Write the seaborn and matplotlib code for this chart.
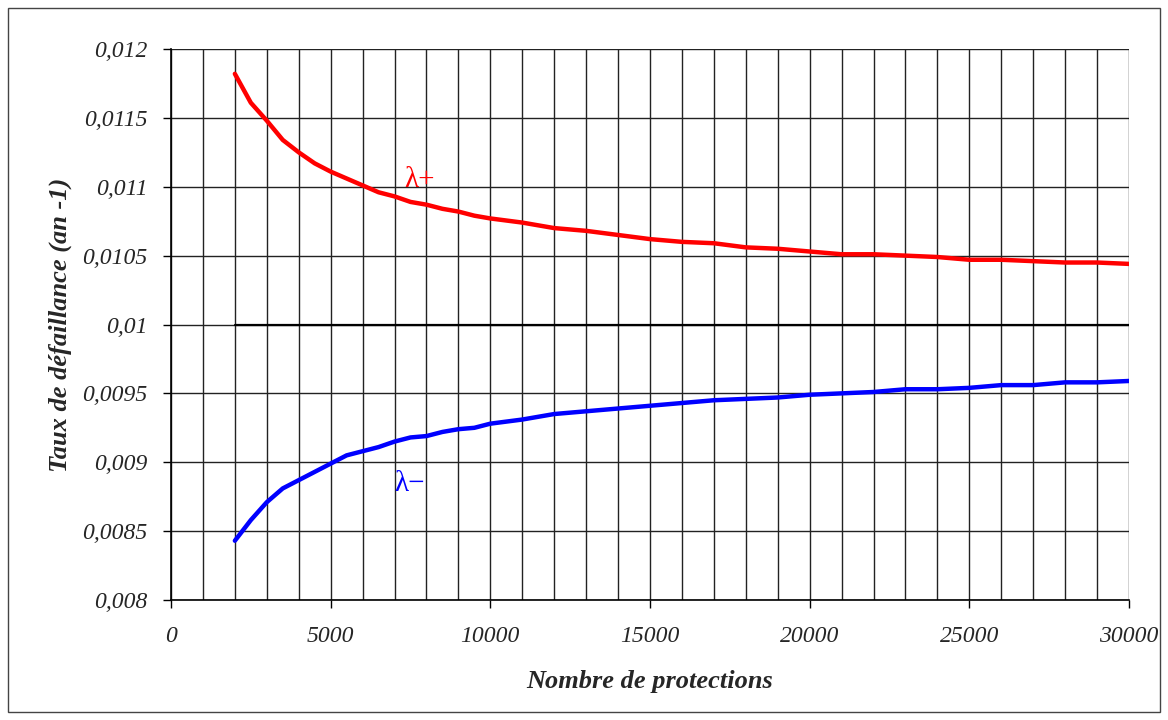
import matplotlib
matplotlib.use("Agg")
import matplotlib.pyplot as plt
import seaborn as sns
import pandas as pd
from matplotlib.patches import Rectangle
from matplotlib.ticker import MultipleLocator, FuncFormatter

# Data
x_plus = [2000, 2500, 3000, 3500, 4000, 4500, 5000, 5500, 6000, 6500, 7000, 7500,
          8000, 8500, 9000, 9500, 10000, 11000, 12000, 13000, 14000, 15000, 16000,
          17000, 18000, 19000, 20000, 21000, 22000, 23000, 24000, 25000, 26000,
          27000, 28000, 29000, 30000]
lambda_plus = [0.01182, 0.01161, 0.01148, 0.01134, 0.01125, 0.01117, 0.01111, 0.01106,
               0.01101, 0.01096, 0.01093, 0.01089, 0.01087, 0.01084, 0.01082, 0.01079,
               0.01077, 0.01074, 0.01070, 0.01068, 0.01065, 0.01062, 0.01060, 0.01059,
               0.01056, 0.01055, 0.01053, 0.01051, 0.01051, 0.01050, 0.01049, 0.01047,
               0.01047, 0.01046, 0.01045, 0.01045, 0.01044]
lambda_minus = [0.00843, 0.00858, 0.00871, 0.00881, 0.00887, 0.00893, 0.00899, 0.00905,
                0.00908, 0.00911, 0.00915, 0.00918, 0.00919, 0.00922, 0.00924, 0.00925,
                0.00928, 0.00931, 0.00935, 0.00937, 0.00939, 0.00941, 0.00943, 0.00945,
                0.00946, 0.00947, 0.00949, 0.00950, 0.00951, 0.00953, 0.00953, 0.00954,
                0.00956, 0.00956, 0.00958, 0.00958, 0.00959]
lambda_ref = [0.01] * len(x_plus)

df = pd.DataFrame({"n": x_plus, "plus": lambda_plus, "minus": lambda_minus, "ref": lambda_ref})

sns.set_style("white")
plt.rcParams['font.family'] = ['Liberation Serif', 'DejaVu Serif']

fig = plt.figure(figsize=(11.68, 7.20), dpi=100)
ax = fig.add_axes([0.1464, 0.1667, 0.8202, 0.7652])

# grid
ax.xaxis.set_minor_locator(MultipleLocator(1000))
ax.xaxis.set_major_locator(MultipleLocator(5000))
ax.yaxis.set_major_locator(MultipleLocator(0.0005))
ax.grid(True, which='both', axis='x', color='#222222', linewidth=1)
ax.grid(True, which='major', axis='y', color='#222222', linewidth=1)
ax.set_axisbelow(True)

sns.lineplot(data=df, x="n", y="ref", ax=ax, color='black', linewidth=1.6)
sns.lineplot(data=df, x="n", y="plus", ax=ax, color='#ff0000', linewidth=3.2)
sns.lineplot(data=df, x="n", y="minus", ax=ax, color='#0000ff', linewidth=3.2)

ax.set_xlim(0, 30000)
ax.set_ylim(0.008, 0.012)

def fmt_y(v, pos):
    s = ('%.4f' % v).rstrip('0').rstrip('.')
    return s.replace('.', ',')

ax.yaxis.set_major_formatter(FuncFormatter(fmt_y))
ax.xaxis.set_major_formatter(FuncFormatter(lambda v, p: '%d' % v))

for s in ['top', 'right']:
    ax.spines[s].set_visible(False)
for s in ['left', 'bottom']:
    ax.spines[s].set_color('black')
    ax.spines[s].set_linewidth(1.2)

ax.tick_params(axis='both', which='major', direction='out', length=6, width=1,
               color='black', labelsize=17, bottom=True, left=True)
ax.tick_params(axis='x', which='minor', length=0)
ax.tick_params(axis='x', pad=13)
ax.tick_params(axis='y', pad=11)
for lab in ax.get_xticklabels() + ax.get_yticklabels():
    lab.set_fontstyle('italic')

ax.set_xlabel('Nombre de protections', fontsize=19, fontweight='bold', fontstyle='italic', labelpad=16)
ax.set_ylabel('Taux de défaillance (an -1)', fontsize=19, fontweight='bold', fontstyle='italic', labelpad=7)

ax.text(7300, 0.01105, 'λ+', color='#ff0000', fontsize=21, va='center', ha='left')
ax.text(7000, 0.00884, 'λ−', color='#0000ff', fontsize=21, va='center', ha='left')

fig.patches.append(Rectangle((8 / 1168, 8 / 720), 1152 / 1168, 704 / 720,
                             transform=fig.transFigure, fill=False,
                             edgecolor='#444444', linewidth=1))

fig.savefig('out.png', dpi=100)
